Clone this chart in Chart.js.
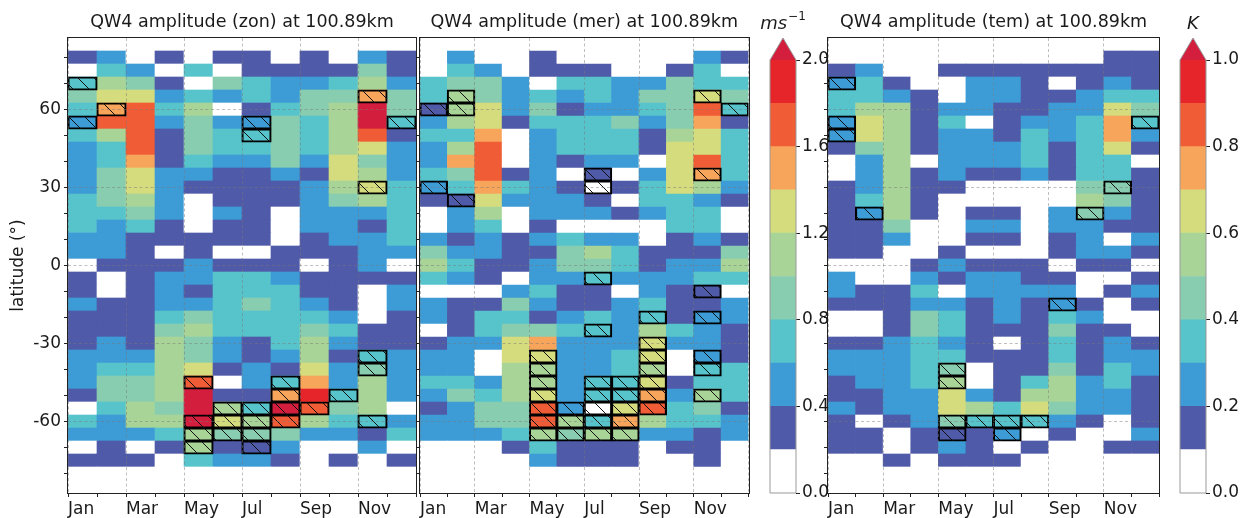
<!DOCTYPE html>
<html><head><meta charset="utf-8">
<script src="https://cdn.jsdelivr.net/npm/chart.js@4.4.1/dist/chart.umd.min.js"></script>
<style>
html,body{margin:0;padding:0;background:#fff;}
#wrap{position:relative;width:1241px;height:518px;overflow:hidden;}
#wrap canvas{position:absolute;left:0;top:0;}
</style></head><body>
<div id="wrap">
<canvas id="pZon" width="1241" height="518"></canvas>
<canvas id="pMer" width="1241" height="518"></canvas>
<canvas id="pTem" width="1241" height="518"></canvas>
<canvas id="cbWind" width="1241" height="518"></canvas>
<canvas id="cbTemp" width="1241" height="518"></canvas>
</div>
<script>
// ---------------- data ----------------
const months = ['Jan','Feb','Mar','Apr','May','Jun','Jul','Aug','Sep','Oct','Nov','Dec'];
const latitudes = [85,80,75,70,65,60,55,50,45,40,35,30,25,20,15,10,5,0,-5,-10,-15,-20,-25,-30,-35,-40,-45,-50,-55,-60,-65,-70,-75,-80,-85];

// zonal wind amplitude (m/s), rows follow latitudes, columns follow months
const zonAmplitude = [
[0.1,0.1,0.1,0.1,0.1,0.1,0.1,0.1,0.1,0.1,0.1,0.1],
[0.3,0.5,0.1,0.3,0.1,0.3,0.3,0.1,0.3,0.1,0.5,0.3],
[0.1,0.7,0.5,0.1,0.7,0.1,0.3,0.3,0.3,0.3,0.9,0.3],
[0.7,1.1,0.9,0.3,0.1,0.9,0.7,0.5,0.5,0.7,1.1,0.5],
[0.9,1.3,1.3,0.5,0.7,0.5,0.7,0.5,0.9,0.9,1.5,0.9],
[0.7,1.5,1.7,0.7,1.1,0.1,0.3,0.7,0.9,1.1,2.1,0.9],
[0.5,1.7,1.7,0.5,0.9,0.5,0.5,0.9,0.7,1.1,2.1,0.7],
[0.7,1.1,1.7,0.3,0.9,0.7,0.7,0.9,0.7,1.1,1.7,0.3],
[0.5,0.7,1.7,0.3,0.9,0.7,0.7,0.9,0.7,1.1,1.3,0.5],
[0.5,0.7,1.5,0.3,0.7,0.5,0.5,0.9,0.5,1.3,0.9,0.5],
[0.5,0.9,1.3,0.5,0.5,0.3,0.3,0.5,0.3,1.3,1.1,0.5],
[0.5,0.9,1.3,0.5,0.3,0.3,0.3,0.3,0.5,1.1,1.3,0.7],
[0.7,0.9,1.1,0.5,0.1,0.3,0.3,0.3,0.5,0.9,1.1,0.7],
[0.7,0.7,0.9,0.5,0.1,0.5,0.3,0.1,0.5,0.5,0.5,0.7],
[0.7,0.5,0.7,0.3,0.1,0.3,0.3,0.1,0.5,0.5,0.3,0.7],
[0.5,0.5,0.3,0.3,0.3,0.3,0.3,0.1,0.3,0.5,0.5,0.7],
[0.5,0.5,0.3,0.1,0.3,0.1,0.1,0.3,0.3,0.3,0.5,0.5],
[0.1,0.3,0.3,0.3,0.5,0.3,0.3,0.3,0.1,0.3,0.5,0.1],
[0.3,0.1,0.3,0.5,0.5,0.7,0.7,0.5,0.3,0.3,0.3,0.3],
[0.3,0.1,0.3,0.5,0.3,0.7,0.7,0.7,0.3,0.3,0.1,0.5],
[0.5,0.3,0.3,0.5,0.5,0.7,0.9,0.7,0.5,0.3,0.1,0.5],
[0.3,0.3,0.3,0.7,0.9,0.7,0.7,0.7,0.7,0.5,0.1,0.3],
[0.3,0.3,0.3,0.9,1.1,0.7,0.7,0.7,0.9,0.7,0.3,0.3],
[0.3,0.5,0.3,1.1,0.9,0.5,0.3,0.7,1.1,0.5,0.3,0.3],
[0.5,0.5,0.5,1.1,0.9,0.5,0.3,0.5,1.1,0.3,0.7,0.5],
[0.5,0.7,0.7,1.1,1.3,0.3,0.5,0.3,1.3,0.5,0.9,0.5],
[0.5,0.9,0.9,1.1,1.7,0.1,0.5,0.7,1.5,0.5,1.1,0.5],
[0.3,0.9,0.9,1.1,2.1,0.3,0.3,1.5,1.9,0.7,1.1,0.5],
[0.1,0.7,1.1,0.9,2.1,1.1,0.7,2.1,1.7,0.9,1.1,0.1],
[0.7,0.5,1.1,1.1,2.1,1.3,1.1,1.7,1.1,0.7,0.7,0.5],
[0.5,0.5,0.5,0.7,1.1,0.9,0.9,0.9,0.5,0.5,0.3,0.7],
[0.1,0.3,0.1,0.3,1.1,0.3,0.3,0.5,0.1,0.1,0.5,0.1],
[0.3,0.3,0.3,0.1,0.7,0.5,0.5,0.3,0.1,0.3,0.1,0.3],
[0.1,0.1,0.1,0.1,0.1,0.1,0.1,0.1,0.1,0.1,0.1,0.1],
[0.1,0.1,0.1,0.1,0.1,0.1,0.1,0.1,0.1,0.1,0.1,0.1]
];

// meridional wind amplitude (m/s)
const merAmplitude = [
[0.1,0.1,0.1,0.1,0.1,0.1,0.1,0.1,0.1,0.1,0.1,0.1],
[0.1,0.5,0.1,0.1,0.3,0.1,0.1,0.1,0.1,0.1,0.5,0.3],
[0.1,0.7,0.5,0.1,0.3,0.3,0.3,0.1,0.1,0.3,0.7,0.1],
[0.7,0.9,0.9,0.5,0.1,0.7,0.7,0.5,0.5,0.9,0.7,0.7],
[0.7,1.1,0.9,0.5,0.7,0.5,0.7,0.5,0.9,0.9,1.3,0.9],
[0.3,1.1,1.3,0.5,0.9,0.3,0.5,0.5,0.7,0.9,1.7,0.7],
[0.5,1.1,1.3,0.3,0.7,0.7,0.7,0.9,0.5,0.9,1.5,0.3],
[0.7,0.7,1.5,0.1,0.5,0.7,0.7,0.7,0.3,1.1,1.3,0.7],
[0.5,1.1,1.7,0.1,0.5,0.7,0.7,0.7,0.3,1.3,1.3,0.7],
[0.5,1.5,1.7,0.1,0.5,0.3,0.5,0.5,0.1,1.3,1.7,0.7],
[0.7,0.9,1.7,0.3,0.5,0.1,0.3,0.1,0.5,1.3,1.5,0.7],
[0.5,0.7,1.5,0.7,0.5,0.3,0.1,0.3,0.7,1.3,1.1,0.5],
[0.3,0.3,1.3,0.5,0.5,0.5,0.3,0.1,0.7,0.7,0.5,0.3],
[0.1,0.5,1.1,0.1,0.5,0.5,0.5,0.3,0.5,0.7,0.7,0.1],
[0.1,0.5,0.7,0.1,0.3,0.1,0.1,0.1,0.1,0.7,0.7,0.1],
[0.5,0.3,0.5,0.3,0.5,0.7,0.5,0.5,0.1,0.3,0.5,0.3],
[0.9,0.5,0.5,0.3,0.3,0.9,1.1,0.7,0.3,0.3,0.3,0.9],
[1.1,0.7,0.3,0.3,0.5,0.9,0.9,0.7,0.3,0.5,0.5,1.1],
[0.7,0.5,0.3,0.1,0.5,0.5,0.7,0.5,0.5,0.5,0.7,0.7],
[0.1,0.1,0.1,0.5,0.7,0.3,0.3,0.1,0.5,0.3,0.3,0.1],
[0.5,0.3,0.3,0.9,0.5,0.3,0.3,0.5,0.7,0.3,0.3,0.5],
[0.5,0.3,0.7,0.7,0.3,0.5,0.7,0.5,0.7,0.3,0.5,0.5],
[0.1,0.3,0.7,0.9,0.9,0.7,0.7,0.5,1.1,0.7,0.5,0.3],
[0.3,0.5,0.5,1.3,1.5,0.5,0.5,0.5,1.3,0.5,0.5,0.3],
[0.5,0.5,0.1,1.3,1.3,0.5,0.5,0.7,1.3,0.1,0.5,0.3],
[0.5,0.5,0.1,1.1,1.1,0.5,0.5,0.7,1.1,0.1,0.7,0.7],
[0.7,0.7,0.5,1.1,1.1,0.5,0.7,0.7,1.3,0.3,0.7,0.7],
[0.5,0.9,0.7,1.1,1.3,0.5,0.7,0.7,1.5,0.5,1.1,0.7],
[0.3,0.5,0.9,0.9,1.7,0.5,0.1,1.3,1.7,0.7,0.9,0.3],
[0.5,0.5,0.9,0.9,1.7,1.1,0.7,1.5,1.1,0.7,0.7,0.5],
[0.5,0.5,0.5,0.7,1.1,0.9,1.1,1.1,0.5,0.5,0.3,0.5],
[0.1,0.1,0.1,0.3,0.7,0.3,0.3,0.3,0.1,0.3,0.3,0.1],
[0.1,0.1,0.1,0.1,0.5,0.3,0.3,0.3,0.1,0.1,0.3,0.1],
[0.1,0.1,0.1,0.1,0.1,0.1,0.1,0.1,0.1,0.1,0.1,0.1],
[0.1,0.1,0.1,0.1,0.1,0.1,0.1,0.1,0.1,0.1,0.1,0.1]
];

// temperature amplitude (K)
const temAmplitude = [
[0.05,0.05,0.05,0.05,0.05,0.05,0.05,0.05,0.05,0.05,0.05,0.05],
[0.05,0.05,0.05,0.05,0.05,0.05,0.05,0.05,0.05,0.05,0.15,0.15],
[0.15,0.25,0.05,0.05,0.15,0.15,0.15,0.15,0.15,0.15,0.15,0.15],
[0.25,0.35,0.15,0.05,0.05,0.25,0.25,0.15,0.05,0.15,0.25,0.15],
[0.35,0.35,0.25,0.15,0.05,0.25,0.25,0.15,0.15,0.25,0.35,0.35],
[0.35,0.55,0.55,0.15,0.25,0.25,0.15,0.15,0.25,0.25,0.65,0.45],
[0.25,0.65,0.55,0.15,0.35,0.05,0.15,0.25,0.25,0.35,0.75,0.35],
[0.25,0.65,0.55,0.15,0.25,0.25,0.15,0.35,0.25,0.35,0.75,0.25],
[0.15,0.45,0.55,0.15,0.25,0.25,0.25,0.35,0.15,0.35,0.65,0.15],
[0.05,0.25,0.55,0.05,0.25,0.25,0.25,0.35,0.15,0.35,0.35,0.05],
[0.05,0.25,0.55,0.15,0.25,0.15,0.15,0.25,0.15,0.35,0.35,0.15],
[0.15,0.25,0.55,0.15,0.15,0.05,0.05,0.05,0.05,0.45,0.45,0.15],
[0.15,0.35,0.55,0.15,0.05,0.05,0.05,0.05,0.05,0.55,0.45,0.15],
[0.15,0.25,0.55,0.15,0.05,0.15,0.15,0.05,0.25,0.45,0.25,0.15],
[0.15,0.15,0.45,0.05,0.05,0.25,0.25,0.05,0.25,0.25,0.15,0.15],
[0.15,0.15,0.25,0.05,0.05,0.15,0.15,0.05,0.15,0.25,0.05,0.25],
[0.15,0.15,0.05,0.05,0.15,0.05,0.05,0.05,0.15,0.25,0.25,0.15],
[0.05,0.05,0.05,0.15,0.25,0.15,0.15,0.15,0.05,0.15,0.15,0.05],
[0.25,0.05,0.05,0.25,0.15,0.25,0.25,0.15,0.15,0.05,0.05,0.15],
[0.25,0.15,0.15,0.35,0.05,0.25,0.25,0.25,0.25,0.05,0.15,0.25],
[0.15,0.15,0.15,0.25,0.25,0.15,0.25,0.15,0.25,0.15,0.05,0.15],
[0.05,0.05,0.15,0.45,0.35,0.15,0.25,0.15,0.35,0.25,0.05,0.05],
[0.05,0.05,0.15,0.45,0.35,0.15,0.15,0.15,0.45,0.15,0.15,0.05],
[0.15,0.15,0.25,0.35,0.25,0.15,0.05,0.15,0.35,0.15,0.25,0.15],
[0.25,0.25,0.25,0.35,0.35,0.15,0.15,0.15,0.35,0.15,0.25,0.25],
[0.25,0.25,0.25,0.35,0.45,0.05,0.15,0.15,0.45,0.15,0.35,0.25],
[0.15,0.25,0.25,0.35,0.55,0.05,0.15,0.35,0.55,0.25,0.35,0.15],
[0.15,0.15,0.25,0.25,0.65,0.25,0.15,0.55,0.55,0.25,0.25,0.15],
[0.25,0.15,0.25,0.25,0.65,0.55,0.35,0.65,0.45,0.25,0.25,0.15],
[0.15,0.05,0.15,0.25,0.45,0.35,0.35,0.35,0.25,0.15,0.05,0.15],
[0.15,0.15,0.05,0.15,0.15,0.15,0.25,0.05,0.15,0.05,0.05,0.25],
[0.15,0.15,0.05,0.15,0.25,0.15,0.05,0.15,0.05,0.05,0.15,0.15],
[0.05,0.05,0.15,0.05,0.15,0.15,0.15,0.05,0.05,0.05,0.05,0.05],
[0.05,0.05,0.05,0.05,0.05,0.05,0.05,0.05,0.05,0.05,0.05,0.05],
[0.05,0.05,0.05,0.05,0.05,0.05,0.05,0.05,0.05,0.05,0.05,0.05]
];

// hatched (significant) cells: [month index, latitude]
const zonHatched = [[0,70],[0,55],[1,60],[6,55],[6,50],[10,65],[10,30],[11,55],[10,-35],[10,-40],[4,-45],[4,-60],[4,-65],[4,-70],[5,-55],[5,-60],[5,-65],[6,-55],[6,-60],[6,-65],[6,-70],[7,-45],[7,-50],[7,-55],[7,-60],[8,-55],[9,-50],[10,-60]];
const merHatched = [[0,60],[0,30],[1,65],[1,60],[1,25],[6,35],[6,30],[10,65],[10,35],[11,60],[6,-5],[10,-10],[8,-20],[10,-20],[6,-25],[4,-35],[4,-40],[4,-45],[4,-50],[4,-55],[4,-60],[4,-65],[5,-55],[5,-60],[5,-65],[6,-45],[6,-50],[6,-55],[6,-60],[6,-65],[7,-45],[7,-50],[7,-55],[7,-60],[7,-65],[8,-30],[8,-35],[8,-40],[8,-45],[8,-50],[8,-55],[10,-35],[10,-40],[10,-50]];
const temHatched = [[0,70],[0,55],[0,50],[11,55],[10,30],[1,20],[9,20],[8,-15],[4,-40],[4,-45],[4,-60],[5,-60],[6,-60],[7,-60],[4,-65],[6,-65]];

const windLevels = [0,0.2,0.4,0.6,0.8,1.0,1.2,1.4,1.6,1.8,2.0];
const tempLevels = [0,0.1,0.2,0.3,0.4,0.5,0.6,0.7,0.8,0.9,1.0];
const windTicks = [0,0.4,0.8,1.2,1.6,2.0];
const tempTicks = [0,0.2,0.4,0.6,0.8,1.0];
const latTicks = [-80,-70,-60,-50,-40,-30,-20,-10,0,10,20,30,40,50,60,70,80];
const monthTicks = [0,1,2,3,4,5,6,7,8,9,10,11,12];

// ---------------- styling ----------------
const palette = ['#ffffff','#4f5aa8','#3d9bd6','#57c3cb','#88cdb0','#a8d597','#d5dc7e','#f8a55c','#f05c36','#e6252b'];
const overColor = '#d41e3e';
const FONT = 'DejaVu Sans';
const TICK_SIZE = 17;
Chart.defaults.font.family = FONT;
Chart.defaults.font.size = TICK_SIZE;
Chart.defaults.color = '#1a1a1a';

function levelColor(v, levels) {
  if (v >= levels[levels.length - 1]) return overColor;
  for (let i = levels.length - 2; i >= 0; i--) if (v >= levels[i]) return palette[i];
  return palette[0];
}

function makeHatch(ctx) {
  const s = 16;
  const c = document.createElement('canvas');
  c.width = s; c.height = s;
  const g = c.getContext('2d');
  g.strokeStyle = '#111'; g.lineWidth = 1;
  g.beginPath();
  g.moveTo(-2, -2); g.lineTo(s + 2, s + 2);
  g.moveTo(-2, s - 2); g.lineTo(2, s + 2);
  g.moveTo(s - 2, -2); g.lineTo(s + 2, 2);
  g.stroke();
  return ctx.createPattern(c, 'repeat');
}

const framePlugin = {
  id: 'frame',
  afterDraw(chart) {
    const a = chart.chartArea, c = chart.ctx;
    c.save();
    c.strokeStyle = '#222'; c.lineWidth = 1;
    const l = Math.round(a.left), t = Math.round(a.top), r = Math.round(a.right), b = Math.round(a.bottom);
    c.strokeRect(l - 0.5, t - 0.5, r - l + 1, b - t + 1);
    c.restore();
  }
};

function buildPanel(id, cfg) {
  const ctx = document.getElementById(id).getContext('2d');
  const cells = [], colors = [];
  latitudes.forEach((lat, r) => {
    cfg.values[r].forEach((v, m) => {
      cells.push({x: m + 0.5, y: [lat - 2.5, lat + 2.5]});
      colors.push(levelColor(v, cfg.levels));
    });
  });
  const hatchCells = cfg.hatched.map(([m, lat]) => ({x: m + 0.5, y: [lat - 2.5, lat + 2.5]}));
  const yAxis = {
    type: 'linear', min: -87.5, max: 87.5, offset: false,
    afterBuildTicks: s => { s.ticks = latTicks.map(v => ({value: v})); },
    afterFit: s => { s.width = cfg.yWidth; },
    grid: {
      z: 1, offset: false,
      color: c => (c.tick && c.tick.value % 30 === 0) ? 'rgba(120,120,120,0.6)' : 'rgba(0,0,0,0)',
      lineWidth: 0.8, tickColor: '#222', tickLength: 4, tickWidth: 1
    },
    border: {display: false, dash: [3, 2.5]},
    ticks: {
      autoSkip: false, padding: 3, font: {size: TICK_SIZE},
      callback: v => (cfg.showYLabels && v % 30 === 0) ? String(v) : ''
    }
  };
  if (cfg.showYLabels) {
    yAxis.title = {display: true, text: 'latitude (°)', font: {size: TICK_SIZE}, padding: {top: 8, bottom: 0}};
  }
  return new Chart(ctx, {
    type: 'bar',
    data: {
      datasets: [
        {label: 'hatch', data: hatchCells, order: 0, grouped: false, barPercentage: 1, categoryPercentage: 1,
         backgroundColor: makeHatch(ctx), borderColor: '#000', borderWidth: 0.9, inflateAmount: 0.6, borderSkipped: false},
        {label: 'amp', data: cells, order: 1, grouped: false, barPercentage: 1, categoryPercentage: 1,
         backgroundColor: colors, borderWidth: 0}
      ]
    },
    options: {
      responsive: false, animation: false, events: [],
      layout: {padding: {left: cfg.padLeft, right: cfg.padRight, top: 0, bottom: 0}},
      plugins: {
        legend: {display: false}, tooltip: {enabled: false},
        title: {display: true, text: cfg.title, fullSize: false, font: {size: 17.5, weight: 'normal'},
                padding: {top: 11.5, bottom: 5.5}}
      },
      scales: {
        x: {
          type: 'linear', min: 0, max: 12, offset: false,
          afterBuildTicks: s => { s.ticks = monthTicks.map(v => ({value: v})); },
          afterFit: s => { s.height = 25; },
          grid: {
            z: 1, offset: false,
            color: c => (c.tick && c.tick.value % 2 === 0) ? 'rgba(120,120,120,0.6)' : 'rgba(0,0,0,0)',
            lineWidth: 0.8, tickColor: '#222', tickLength: 4, tickWidth: 1
          },
          border: {display: false, dash: [3, 2.5]},
          ticks: {
            autoSkip: false, maxRotation: 0, minRotation: 0, align: 'start', padding: 2, font: {size: TICK_SIZE},
            callback: v => (v % 2 === 0 && v < 12) ? months[v] : ''
          }
        },
        y: yAxis
      }
    },
    plugins: [framePlugin]
  });
}

function colorbarPlugin(unit, sup) {
  return {
    id: 'cbextra',
    afterDatasetsDraw(chart) {
      const a = chart.chartArea, c = chart.ctx;
      const mid = (a.left + a.right) / 2, apex = a.top - 22;
      c.save();
      c.beginPath();
      c.moveTo(a.left, a.top); c.lineTo(mid, apex); c.lineTo(a.right, a.top); c.closePath();
      c.fillStyle = overColor; c.fill();
      c.beginPath();
      c.moveTo(a.left, a.bottom); c.lineTo(a.left, a.top); c.lineTo(mid, apex);
      c.lineTo(a.right, a.top); c.lineTo(a.right, a.bottom); c.closePath();
      c.strokeStyle = '#999'; c.lineWidth = 1; c.stroke();
      c.fillStyle = '#1a1a1a'; c.textBaseline = 'alphabetic'; c.textAlign = 'left';
      c.font = 'italic 18px "' + FONT + '"';
      const w1 = c.measureText(unit).width;
      c.font = '12px "' + FONT + '"';
      const w2 = sup ? c.measureText(sup).width + 1 : 0;
      const x0 = mid - (w1 + w2) / 2;
      c.font = 'italic 18px "' + FONT + '"';
      c.fillText(unit, x0, 29);
      if (sup) { c.font = '12px "' + FONT + '"'; c.fillText(sup, x0 + w1 + 1, 20); }
      c.restore();
    }
  };
}

function buildColorbar(id, cfg) {
  const ctx = document.getElementById(id).getContext('2d');
  const datasets = [];
  for (let i = 0; i < cfg.levels.length - 1; i++) {
    datasets.push({data: [[cfg.levels[i], cfg.levels[i + 1]]], backgroundColor: palette[i], borderWidth: 0,
                   grouped: false, barPercentage: 1, categoryPercentage: 1});
  }
  return new Chart(ctx, {
    type: 'bar',
    data: {labels: [''], datasets},
    options: {
      responsive: false, animation: false, events: [],
      layout: {padding: {left: cfg.left, right: 1241 - cfg.right - cfg.yWidth, top: 60, bottom: 25}},
      plugins: {legend: {display: false}, tooltip: {enabled: false}},
      scales: {
        x: {display: false},
        y: {
          position: 'right', type: 'linear', min: 0, max: cfg.levels[cfg.levels.length - 1],
          afterBuildTicks: s => { s.ticks = cfg.ticks.map(v => ({value: v})); },
          afterFit: s => { s.width = cfg.yWidth; },
          grid: {drawOnChartArea: false, tickColor: '#222', tickLength: 4, tickWidth: 1},
          border: {display: false},
          ticks: {padding: 2, font: {size: TICK_SIZE}, callback: v => Number(v).toFixed(1)}
        }
      }
    },
    plugins: [colorbarPlugin(cfg.unit, cfg.sup)]
  });
}

buildPanel('pZon', {values: zonAmplitude, levels: windLevels, hatched: zonHatched, title: 'QW4 amplitude (zon) at 100.89km',
  padLeft: 0, padRight: 1241 - 416, yWidth: 68, showYLabels: true});
buildPanel('pMer', {values: merAmplitude, levels: windLevels, hatched: merHatched, title: 'QW4 amplitude (mer) at 100.89km',
  padLeft: 400, padRight: 1241 - 748.5, yWidth: 20, showYLabels: false});
buildPanel('pTem', {values: temAmplitude, levels: tempLevels, hatched: temHatched, title: 'QW4 amplitude (tem) at 100.89km',
  padLeft: 808, padRight: 1241 - 1159, yWidth: 20, showYLabels: false});
buildColorbar('cbWind', {levels: windLevels, ticks: windTicks, left: 770, right: 796, yWidth: 40, unit: 'ms', sup: '−1'});
buildColorbar('cbTemp', {levels: tempLevels, ticks: tempTicks, left: 1180, right: 1206, yWidth: 35, unit: 'K', sup: ''});
</script>
</body></html>
